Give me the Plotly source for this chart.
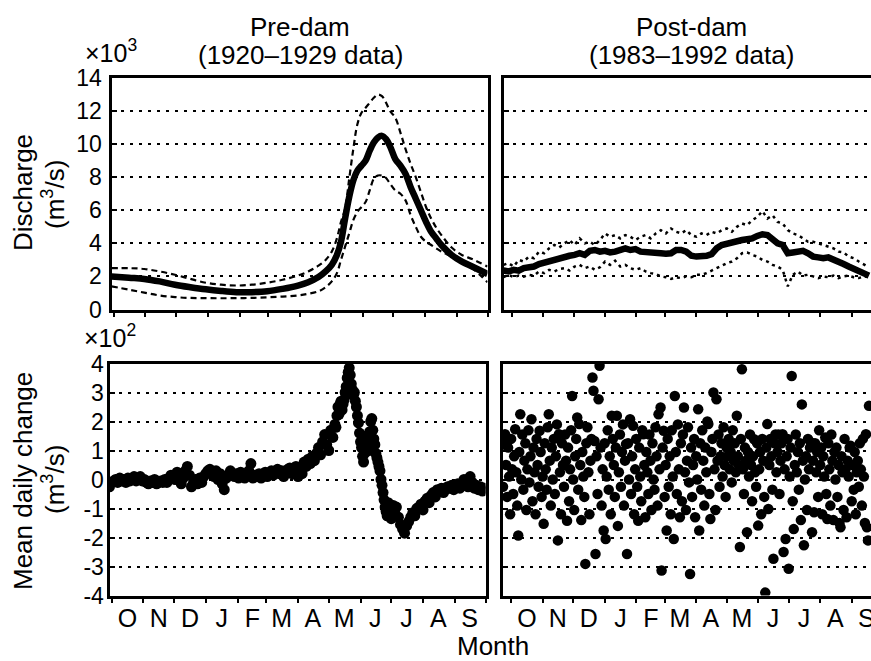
import plotly.graph_objects as go

# ---------------- data ----------------
months = ["O", "N", "D", "J", "F", "M", "A", "M", "J", "J", "A", "S"]
month_mid = [15.5, 46, 76.5, 107.5, 137.5, 166, 196.5, 227, 257.5, 288, 319, 349.5]
month_edge = [0, 31, 61, 92, 123, 151, 182, 212, 243, 273, 304, 335, 365]

q_ticks = [0, 2, 4, 6, 8, 10, 12, 14]
chg_ticks = [-4, -3, -2, -1, 0, 1, 2, 3, 4]

# Pre-dam discharge (x10^3 m3/s), day of water year (0 = Oct 1)
pre_q_day = [-2, 15, 30, 45, 60, 75, 90, 105, 120, 135, 150, 165, 180, 190, 200,
             207, 213, 218, 222, 226, 230, 234, 238, 242, 246, 250, 254, 258, 262, 266,
             270, 275, 280, 285, 290, 295, 300, 305, 310, 315, 320, 330, 340, 350, 365]
pre_q_mean = [2.0, 1.92, 1.85, 1.7, 1.5, 1.35, 1.22, 1.12, 1.05, 1.05, 1.1, 1.25, 1.45, 1.65, 1.96,
              2.3, 2.7, 3.3, 4.1, 5.5, 6.8, 7.8, 8.4, 8.7, 9.0, 9.6, 10.1, 10.4, 10.5, 10.3,
              9.85, 9.1, 8.7, 8.2, 7.4, 6.7, 6.0, 5.3, 4.7, 4.3, 3.9, 3.3, 2.9, 2.6, 2.15]
pre_q_high = [2.5, 2.5, 2.45, 2.3, 2.1, 1.85, 1.62, 1.5, 1.45, 1.5, 1.62, 1.8, 2.05, 2.3, 2.65,
              3.0, 3.5, 4.3, 5.3, 6.1, 7.9, 9.7, 11.2, 11.9, 12.2, 12.5, 12.8, 13.0, 12.9, 12.5,
              12.0, 11.6, 10.7, 9.7, 8.8, 8.0, 7.1, 6.2, 5.5, 4.95, 4.5, 3.75, 3.3, 3.05, 2.6]
pre_q_low = [1.4, 1.2, 1.02, 0.85, 0.75, 0.7, 0.69, 0.68, 0.69, 0.7, 0.74, 0.78, 0.85, 0.95, 1.1,
             1.35, 1.7, 2.2, 3.0, 3.8, 4.6, 5.4, 5.9, 6.2, 6.5, 7.2, 7.9, 8.1, 8.1, 7.95,
             7.6, 7.2, 7.0, 6.6, 5.7, 5.0, 4.4, 4.1, 3.9, 3.7, 3.5, 3.2, 2.85, 2.5, 1.65]

# Post-dam discharge (x10^3 m3/s), every 5 days
post_q_day = list(range(-8, 353, 5))
post_q_mean = [2.36, 2.3, 2.4, 2.35, 2.5, 2.55, 2.6, 2.75, 2.85, 2.9,
               3.0, 3.1, 3.2, 3.25, 3.3, 3.4, 3.3, 3.55, 3.6, 3.5,
               3.55, 3.45, 3.5, 3.6, 3.7, 3.6, 3.65, 3.5, 3.45, 3.45,
               3.4, 3.4, 3.37, 3.4, 3.6, 3.6, 3.5, 3.25, 3.2, 3.2,
               3.25, 3.35, 3.7, 3.9, 4.0, 4.08, 4.15, 4.2, 4.25, 4.3,
               4.45, 4.55, 4.5, 4.2, 4.0, 3.9, 3.4, 3.45, 3.5, 3.55,
               3.4, 3.2, 3.15, 3.1, 3.15, 3.05, 2.9, 2.75, 2.6, 2.45,
               2.3, 2.15, 2.05]
post_q_high = [2.7, 2.8, 2.6, 3.0, 2.9, 3.2, 3.1, 3.5, 3.4, 3.7,
               3.9, 3.75, 4.0, 4.2, 3.9, 4.3, 4.0, 4.1, 3.9, 4.2,
               4.6, 4.4, 4.5, 4.3, 4.5, 4.4, 4.2, 4.4, 4.5, 4.3,
               4.6, 4.8, 4.6, 4.9, 4.7, 4.6, 4.8, 4.5, 4.4, 4.6,
               4.5, 4.7, 4.6, 4.8, 4.9, 4.7, 5.0, 5.2, 5.1, 5.4,
               5.6, 5.95, 5.5, 5.7, 5.3, 5.2, 4.8, 4.6, 4.5, 4.3,
               4.1, 4.1, 4.0, 3.9, 3.8, 3.7, 3.5, 3.45, 3.2, 3.1,
               2.9, 2.7, 2.55]
post_q_low = [1.96, 2.1, 1.95, 2.05, 1.98, 2.1, 2.05, 2.3, 2.2, 2.4,
              2.3, 2.45, 2.5, 2.35, 2.6, 2.7, 2.5, 2.6, 2.4, 2.55,
              2.9, 2.7, 2.95, 2.6, 2.7, 2.5, 2.4, 2.5, 2.3, 2.2,
              2.15, 2.0, 1.95, 1.85, 1.95, 1.9, 2.0, 1.95, 2.1, 2.1,
              2.2, 2.35, 2.5, 2.65, 2.8, 2.9, 3.1, 3.4, 3.45, 3.3,
              3.2, 3.0, 2.9, 2.7, 2.6, 2.4, 1.4, 2.1, 2.3, 2.05,
              2.1, 2.0, 1.9, 2.0, 1.95, 2.05, 1.9, 2.0, 2.05, 1.95,
              1.9, 2.0, 1.95]

# Pre-dam mean daily change (x10^2 m3/s)
pre_chg_day = list(range(-2, 219, 2)) + list(range(219, 279)) + list(range(280, 365, 2))
pre_chg_val = [
    -0.25, -0.1, -0.05, 0.0, -0.1, 0.05, -0.05, 0.0, -0.1, 0.05,
    -0.05, 0.0, 0.1, -0.05, 0.05, 0.1, -0.05, 0.0, -0.1, -0.15,
    -0.05, -0.1, 0.0, -0.15, -0.1, -0.05, -0.1, 0.0, -0.1, 0.05,
    0.15, 0.1, 0.0, 0.25, 0.1, -0.15, 0.05, 0.3, 0.45, 0.15,
    -0.25, -0.1, 0.0, -0.15, 0.05, -0.1, 0.1, 0.2, 0.3, 0.35,
    0.25, 0.1, 0.3, 0.0, 0.2, -0.15, -0.35, 0.05, 0.15, 0.3,
    0.2, 0.1, 0.2, 0.05, 0.25, 0.1, 0.05, 0.15, 0.3, 0.55,
    0.05, 0.15, 0.1, 0.2, 0.05, 0.15, 0.25, 0.1, 0.2, 0.3,
    0.15, 0.25, 0.35, 0.2, 0.3, 0.1, 0.25, 0.35, 0.4, 0.2,
    0.3, 0.45, 0.1, 0.35, 0.2, 0.6, 0.45, 0.7, 0.55, 0.8,
    0.65, 0.9, 1.1, 0.85, 1.3, 1.55, 1.2, 1.0, 1.7, 1.45,
    1.9,
    1.8, 2.2, 2.5, 2.25, 2.6, 2.7, 2.4, 2.6, 2.75, 3.0,
    3.2, 3.5, 3.7, 3.85, 3.6, 3.3, 3.1, 2.9, 3.0, 2.7,
    2.5, 2.2, 1.95, 1.6, 1.3, 1.1, 0.8, 0.6, 0.9, 1.2,
    1.5, 1.3, 1.0, 1.65, 2.0, 2.1, 1.7, 1.4, 1.2, 0.9,
    0.75, 0.6, 0.45, 0.3, 0.0, -0.2, -0.45, -0.7, -0.95, -1.1,
    -1.25, -0.8, -1.0, -1.2, -1.35, -1.0, -0.9, -1.1, -1.2, -0.95,
    -1.3, -1.55, -1.7, -1.85, -1.6, -1.45, -1.3, -1.15, -1.25, -1.0,
    -0.95, -0.85, -1.05, -0.75, -0.65, -0.8, -0.55, -0.45, -0.6, -0.35,
    -0.4, -0.3, -0.45, -0.35, -0.25, -0.3, -0.2, -0.35, -0.25, -0.15,
    -0.3, -0.2, 0.0, -0.15, -0.25, 0.1, -0.1, -0.3, -0.2, -0.35,
    -0.25, -0.4, -0.3]

# Post-dam mean daily change (x10^2 m3/s), one value per day
post_chg_day = list(range(-8, 353))
post_chg_val = [
    -0.25, 1.25, 1.56, 0.5, -0.6, 1.1, 0.1, -1.2, 1.4, 0.35,
    -0.5, 0.8, 1.73, 0.25, -0.9, -1.93, 0.95, 2.25, 0.0, 1.55,
    -0.35, 0.65, 1.25, -1.05, 0.35, 1.7, -0.1, 0.8, 2.08, -0.75,
    1.1, 0.25, -1.2, 1.4, 0.5, -0.25, 1.68, 0.95, -0.6, 0.1,
    -1.53, 1.25, 0.35, -0.35, 1.8, 2.25, 0.65, -0.9, 1.1, 0.0,
    1.4, -0.5, 0.8, 1.9, -2.1, 1.56, 0.25, -1.2, 1.25, 0.5,
    -0.25, 1.55, 0.65, -1.42, 1.1, -0.75, 0.35, 1.7, 2.88, 0.0,
    -1.05, 0.8, 1.4, 2.14, -0.35, 1.91, 0.5, -1.4, 0.95, 0.1,
    -0.6, -2.91, 1.25, 1.8, 0.25, -1.2, 0.65, 1.4, 3.52, 3.06,
    1.33, -2.57, 0.8, -0.5, 2.77, 3.92, 1.1, -0.9, 0.35, -1.76,
    1.25, -2.05, 0.1, 1.7, -0.35, 0.8, -1.2, 2.2, 1.4, 0.5,
    -0.6, 1.1, 2.2, -1.6, 0.25, 1.55, -0.25, 0.95, 1.9, -0.9,
    0.65, 1.22, -2.57, 1.25, 0.0, 2.08, -0.5, 0.8, 1.85, -1.2,
    0.35, 1.4, -0.25, -1.42, 1.1, 0.1, -0.75, 1.7, 1.56, 0.5,
    -1.3, 0.95, 0.25, -0.5, 1.55, 0.65, -1.05, 1.25, 0.0, -0.35,
    1.8, 0.8, -0.9, 2.25, 0.35, 2.48, -3.14, 1.1, 1.68, -0.6,
    0.5, -1.76, 1.4, -0.25, 0.8, -1.2, 1.7, 0.1, -2.05, 2.88,
    0.95, -0.5, 1.9, 0.35, -1.3, 1.25, -0.75, 1.55, 2.48, 0.25,
    -1.05, 0.65, 1.8, -0.1, -3.26, 1.1, -0.6, 0.5, 1.4, -1.3,
    0.8, 0.0, 2.42, -1.76, 1.25, -0.35, 1.7, 0.65, -0.9, 1.1,
    0.25, 2.0, 1.91, -0.5, -1.36, 0.95, 1.4, 3.0, 0.35, -1.05,
    2.77, 0.65, 1.55, -0.25, 0.8, 1.25, 0.1, 1.8, 0.5, -0.6,
    1.1, 0.8, 1.4, 0.35, 0.95, -0.1, 1.7, 0.65, 1.25, 0.25,
    2.2, 0.8, 0.5, -2.33, 1.4, 3.8, 0.35, -0.5, 1.1, 0.65,
    -1.82, 0.95, 0.1, 1.55, 0.5, -0.75, 0.8, 1.39, 0.25, -0.25,
    1.25, -1.59, 0.35, 0.95, -1.2, 1.4, 0.65, -0.6, -3.9, 1.1,
    1.91, -1.02, 0.5, 1.4, 0.8, -0.35, -2.73, 1.25, 1.55, 0.25,
    0.95, 1.55, -0.5, 0.65, 1.25, 1.56, -2.5, 0.35, -2.05, 0.8,
    1.4, -3.08, 0.1, 1.1, 3.57, -0.75, -1.71, 0.5, 1.55, 0.25,
    0.95, -0.35, 1.25, -1.4, 2.59, 0.65, -2.27, 0.0, 0.8, -1.05,
    1.4, 0.35, 1.1, 1.28, -1.82, 0.65, -1.13, 1.25, 0.25, 0.95,
    -0.6, 1.7, 0.5, 1.1, -1.2, 0.8, 0.1, 1.45, -0.5, -1.36,
    1.25, 0.35, -0.9, 1.55, 0.65, -1.4, 0.95, 0.0, 1.1, -0.6,
    0.5, -1.5, -1.65, 0.8, 0.25, -1.05, 1.4, 0.35, -1.3, 0.65,
    0.1, 1.1, 1.16, -0.75, 0.5, -0.35, 0.95, -1.2, 0.25, 0.65,
    -0.25, 1.25, 0.35, -0.9, 1.4, 0.1, -1.5, 1.56, -1.65, -2.1,
    2.54]

# ---------------- layout helpers ----------------
W, H = 871, 661
FONT = "Liberation Sans, Arial, Helvetica, sans-serif"


def fx(p):
    return p / W


def fy(p):
    return 1 - p / H


def yax(dom, rng, vals, labels, mirror, standoff):
    return dict(domain=dom, range=rng, tickmode="array", tickvals=vals,
                ticktext=[str(v) for v in vals], showticklabels=labels,
                ticks="inside", ticklen=5, tickwidth=1.5, tickcolor="black",
                showline=True, linewidth=3, linecolor="black", mirror=mirror,
                showgrid=True, gridcolor="black", gridwidth=1.7, griddash="3px,6px",
                zeroline=False, ticklabelstandoff=standoff,
                tickfont=dict(family=FONT, size=23, color="black"), fixedrange=True)


def xax(dom, rng, anchor, labels):
    return dict(domain=dom, range=rng, anchor=anchor, tickmode="array",
                tickvals=month_mid, ticktext=months, showticklabels=labels,
                ticks="", showline=True, linewidth=3, linecolor="black", mirror=True,
                showgrid=False, zeroline=False, ticklabelstandoff=-2,
                ticklabeloverflow="allow",
                tickfont=dict(family=FONT, size=25, color="black"),
                minor=dict(tickmode="array", tickvals=month_edge, ticks="outside",
                           ticklen=4, tickwidth=1.5, tickcolor="black", showgrid=False),
                fixedrange=True)


top_dom = [fy(309.5), fy(78)]
bot_dom = [fy(595.5), fy(363.5)]

fig = go.Figure()

# Pre-dam discharge
fig.add_trace(go.Scatter(x=pre_q_day, y=pre_q_high, mode="lines", xaxis="x", yaxis="y",
                         line=dict(color="black", width=2.2, dash="6px,4px", shape="spline")))
fig.add_trace(go.Scatter(x=pre_q_day, y=pre_q_low, mode="lines", xaxis="x", yaxis="y",
                         line=dict(color="black", width=2.2, dash="6px,4px", shape="spline")))
fig.add_trace(go.Scatter(x=pre_q_day, y=pre_q_mean, mode="lines", xaxis="x", yaxis="y",
                         line=dict(color="black", width=6.5, shape="spline")))

# Post-dam discharge
fig.add_trace(go.Scatter(x=post_q_day, y=post_q_high, mode="lines", xaxis="x2", yaxis="y2",
                         line=dict(color="black", width=2.5, dash="3px,4px")))
fig.add_trace(go.Scatter(x=post_q_day, y=post_q_low, mode="lines", xaxis="x2", yaxis="y2",
                         line=dict(color="black", width=2.5, dash="3px,4px")))
fig.add_trace(go.Scatter(x=post_q_day, y=post_q_mean, mode="lines", xaxis="x2", yaxis="y2",
                         line=dict(color="black", width=6.5)))

# Daily change scatters
fig.add_trace(go.Scatter(x=pre_chg_day, y=pre_chg_val, mode="markers", xaxis="x3", yaxis="y3",
                         marker=dict(color="black", size=11, line=dict(width=0))))
fig.add_trace(go.Scatter(x=post_chg_day, y=post_chg_val, mode="markers", xaxis="x4", yaxis="y4",
                         marker=dict(color="black", size=10.5, line=dict(width=0))))

ann_font = dict(family=FONT, size=26, color="black")
small_font = dict(family=FONT, size=25, color="black")
annotations = [
    dict(text="Pre-dam", x=fx(300), y=fy(27)),
    dict(text="(1920–1929 data)", x=fx(300), y=fy(55)),
    dict(text="Post-dam", x=fx(691), y=fy(27)),
    dict(text="(1983–1992 data)", x=fx(691), y=fy(55)),
    dict(text="×10<sup>3</sup>", x=fx(111), y=fy(51), font=small_font),
    dict(text="×10<sup>2</sup>", x=fx(110), y=fy(336), font=small_font),
    dict(text="Discharge", x=fx(23), y=fy(193), textangle=-90),
    dict(text="(m<sup>3</sup>/s)", x=fx(53), y=fy(195), textangle=-90),
    dict(text="Mean daily change", x=fx(23), y=fy(481), textangle=-90),
    dict(text="(m<sup>3</sup>/s)", x=fx(53), y=fy(480), textangle=-90),
    dict(text="Month", x=fx(493), y=fy(646)),
]
for a in annotations:
    a.setdefault("font", ann_font)
    a.update(xref="paper", yref="paper", xanchor="center", yanchor="middle", showarrow=False)

fig.update_layout(
    width=W, height=H, margin=dict(l=0, r=0, t=0, b=0),
    paper_bgcolor="white", plot_bgcolor="white", showlegend=False,
    template="none",
    xaxis=xax([fx(111.5), fx(487.5)], [-2, 365], "y", False),
    xaxis2=xax([fx(503.5), 1.0], [-8, 354], "y2", False),
    xaxis3=xax([fx(109.5), fx(485.5)], [-2, 365], "y3", True),
    xaxis4=xax([fx(503), 1.0], [-8, 354], "y4", True),
    yaxis=yax(top_dom, [0, 14], q_ticks, True, True, 2),
    yaxis2=yax(top_dom, [0, 14], q_ticks, False, False, 0),
    yaxis3=yax(bot_dom, [-4, 4], chg_ticks, True, True, -2),
    yaxis4=yax(bot_dom, [-4, 4], chg_ticks, False, False, 0),
    annotations=annotations,
)
fig.update_layout(yaxis=dict(anchor="x"), yaxis2=dict(anchor="x2"),
                  yaxis3=dict(anchor="x3"), yaxis4=dict(anchor="x4"))

# remove the default 8px page margin so the figure fills the window exactly
fig.write_html("out.html", config={"displayModeBar": False},
               post_script="document.body.style.margin='0';")
